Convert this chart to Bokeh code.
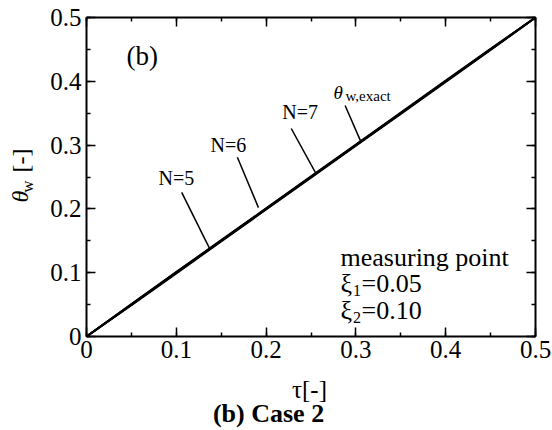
import math
from bokeh.plotting import figure
from bokeh.models import Range1d, LinearAxis, SingleIntervalTicker, Label, ColumnDataSource, CustomJSTickFormatter
from bokeh.embed import file_html
from bokeh.resources import INLINE

# ---- data ----
tau = [0.0, 0.05, 0.10, 0.15, 0.20, 0.25, 0.30, 0.35, 0.40, 0.45, 0.50]
theta_exact = [0.0, 0.050, 0.100, 0.150, 0.200, 0.250, 0.300, 0.350, 0.400, 0.450, 0.500]
theta_n5 = [0.0, 0.051, 0.101, 0.151, 0.201, 0.251, 0.301, 0.351, 0.401, 0.451, 0.500]
theta_n6 = [0.0, 0.050, 0.101, 0.150, 0.200, 0.250, 0.300, 0.350, 0.400, 0.450, 0.500]
theta_n7 = [0.0, 0.049, 0.099, 0.149, 0.199, 0.249, 0.299, 0.349, 0.399, 0.449, 0.500]

x_lim = [0.0, 0.5]
y_lim = [0.0, 0.5]
tick_step = 0.1

# annotation labels and their leader lines (data units)
ann_text = ["N=5", "N=6", "N=7"]
ann_tx = [0.100, 0.158, 0.238]
ann_ty = [0.249, 0.300, 0.352]
lead_x0 = [0.106, 0.168, 0.228, 0.288]
lead_y0 = [0.226, 0.281, 0.326, 0.362]
lead_x1 = [0.137, 0.1915, 0.255, 0.305]
lead_y1 = [0.138, 0.202, 0.257, 0.307]

FONT = "Liberation Serif"
INK = "black"

# the plotting frame covers the whole canvas; axes are pinned at the data box edges
p = figure(width=552, height=430, output_backend="svg", toolbar_location=None,
           x_range=Range1d(-0.09577, 0.51893), y_range=Range1d(-0.14734, 0.52665),
           min_border=0, x_axis_location=None, y_axis_location=None)
p.grid.visible = False
p.background_fill_color = "white"
p.border_fill_color = "white"
p.outline_line_color = None

def make_axis(loc, show_labels):
    ax = LinearAxis(ticker=SingleIntervalTicker(interval=tick_step, num_minor_ticks=2),
                    fixed_location=loc)
    ax.bounds = (0.0, 0.5)
    ax.axis_line_color = INK
    ax.axis_line_width = 2
    ax.major_tick_line_color = INK
    ax.minor_tick_line_color = INK
    ax.major_tick_in = 9
    ax.major_tick_out = 0
    ax.minor_tick_in = 4
    ax.minor_tick_out = 0
    ax.major_tick_line_width = 1.5
    ax.minor_tick_line_width = 1.5
    if show_labels:
        ax.major_label_text_font = FONT
        ax.major_label_text_font_size = "25px"
        ax.major_label_text_color = INK
        ax.major_label_standoff = 5
        ax.major_label_overrides = {0: "0"}
    else:
        ax.formatter = CustomJSTickFormatter(code="return ''")
    return ax

p.add_layout(make_axis(y_lim[0], True), "below")
p.add_layout(make_axis(x_lim[0], True), "left")
p.add_layout(make_axis(y_lim[1], False), "above")
p.add_layout(make_axis(x_lim[1], False), "right")

for ys in (theta_n5, theta_n6, theta_n7, theta_exact):
    p.line(tau, ys, line_color=INK, line_width=2)

seg = ColumnDataSource(dict(x0=lead_x0, y0=lead_y0, x1=lead_x1, y1=lead_y1))
p.segment("x0", "y0", "x1", "y1", source=seg, line_color=INK, line_width=1.5)

def lab(x, y, text, size, **kw):
    p.add_layout(Label(x=x, y=y, text=text, text_font=FONT, text_font_size=size,
                       text_color=INK, **kw))

for t, x, y in zip(ann_text, ann_tx, ann_ty):
    lab(x, y, t, "20px", text_align="center", text_baseline="middle")

# theta_w,exact
lab(0.2751, 0.3824, "θ", "19px", text_font_style="italic", text_baseline="alphabetic")
lab(0.2884, 0.3762, "w,exact", "15px", text_baseline="alphabetic")

# (b)
lab(0.0445, 0.4404, "(b)", "27px", text_baseline="middle")

# measuring point block
lab(0.2829, 0.1238, "measuring point", "26px", text_baseline="alphabetic")
for yb, ys, sub, val in ((0.0831, 0.0721, "1", "=0.05"), (0.0408, 0.0298, "2", "=0.10")):
    lab(0.2829, yb, "ξ", "26px", text_baseline="alphabetic")
    lab(0.2967, ys, sub, "16px", text_baseline="alphabetic")
    lab(0.3062, yb, val, "26px", text_baseline="alphabetic")

# y axis title: theta_w [-]
lab(-0.0735, 0.2194, "θ", "24px", text_font_style="italic", text_align="center",
    text_baseline="middle", angle=math.pi / 2)
lab(-0.0652, 0.2350, "w", "17px", text_align="center", text_baseline="middle",
    angle=math.pi / 2)
lab(-0.0724, 0.2759, "[-]", "24px", text_align="center", text_baseline="middle",
    angle=math.pi / 2)

# x axis title and caption
lab(0.2483, -0.0831, "τ[-]", "25px", text_align="center", text_baseline="middle")
lab(0.2027, -0.1207, "(b) Case 2", "26px", text_font_style="bold", text_align="center",
    text_baseline="middle")

open("out.html", "w").write(file_html(p, INLINE))
